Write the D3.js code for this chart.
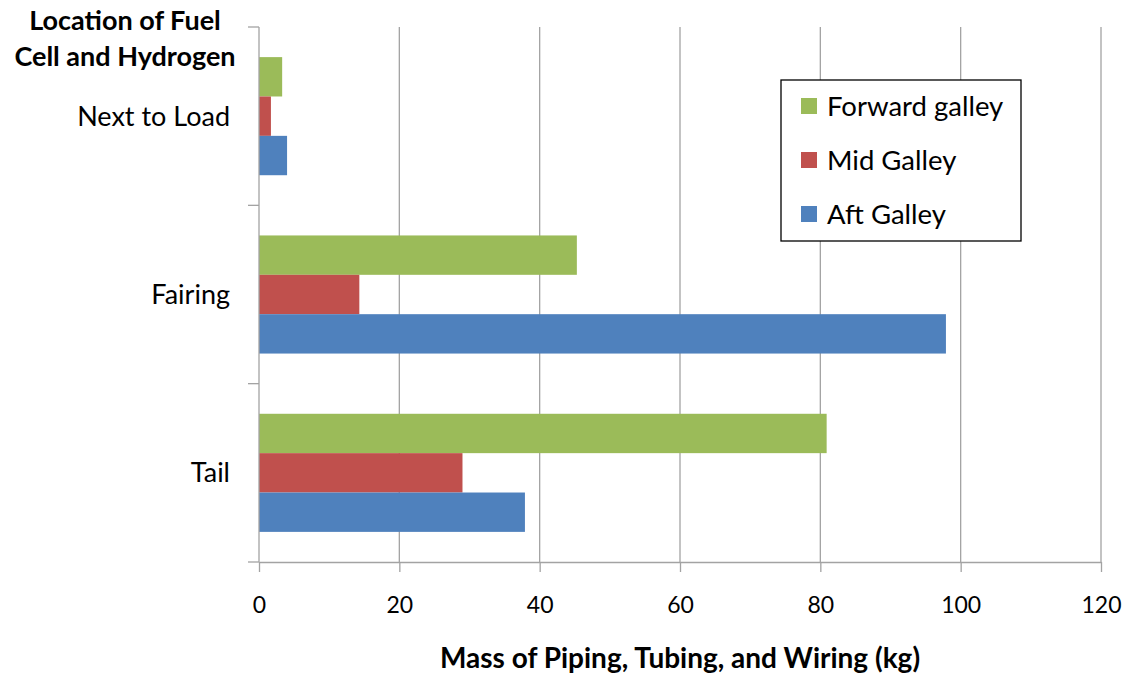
<!DOCTYPE html>
<html>
<head>
<meta charset="utf-8">
<script src="https://cdn.jsdelivr.net/npm/d3@7"></script>
<style>
  html, body { margin: 0; padding: 0; background: #fff; }
  svg { display: block; font-family: Lato, "Open Sans", sans-serif; }
</style>
</head>
<body>
<svg id="chart" width="1128" height="675"></svg>
<script>
// Fuel cell / hydrogen location options, top to bottom
const categories = ["Next to Load", "Fairing", "Tail"];
// Series, drawn top to bottom inside each group
const seriesNames = ["Forward galley", "Mid Galley", "Aft Galley"];
const seriesColors = ["#9BBB59", "#C0504D", "#4F81BD"];
// Mass of piping, tubing and wiring (kg), one array per series, ordered as categories
const forwardGalley = [3.3, 45.3, 80.9];
const midGalley = [1.7, 14.3, 29.0];
const aftGalley = [4.0, 97.9, 37.9];
const xTicks = [0, 20, 40, 60, 80, 100, 120];
const titleLines = ["Location of Fuel", "Cell and Hydrogen"];
const xTitle = "Mass of Piping, Tubing, and Wiring (kg)";

const seriesValues = [forwardGalley, midGalley, aftGalley];

const svg = d3.select("#chart");
const plot = { left: 259, right: 1101, top: 27, bottom: 562 };
const gapWidth = 0.51;

const x = d3.scaleLinear().domain([0, 120]).range([plot.left, plot.right]);
const y = d3.scaleBand().domain(categories).range([plot.top, plot.bottom]).padding(0);
const groupH = y.bandwidth() / (1 + gapWidth);
const groupOff = (y.bandwidth() - groupH) / 2;
const ySub = d3.scaleBand().domain(seriesNames).range([groupOff, groupOff + groupH]).padding(0);

const gridColor = "#a3a3a3";

// vertical gridlines
svg.append("g")
  .selectAll("line")
  .data(xTicks.filter(d => d > 0))
  .join("line")
  .attr("x1", d => x(d)).attr("x2", d => x(d))
  .attr("y1", plot.top).attr("y2", plot.bottom)
  .attr("stroke", gridColor).attr("stroke-width", 1.3);

// bars
const groups = svg.append("g")
  .selectAll("g")
  .data(categories)
  .join("g")
  .attr("transform", d => `translate(0,${y(d)})`);

groups.selectAll("rect")
  .data((c, ci) => seriesNames.map((s, si) => ({ s, si, v: seriesValues[si][ci] })))
  .join("rect")
  .attr("x", x(0))
  .attr("y", d => ySub(d.s))
  .attr("width", d => x(d.v) - x(0))
  .attr("height", ySub.bandwidth())
  .attr("fill", d => seriesColors[d.si]);

// x axis
const xAxis = svg.append("g")
  .attr("transform", `translate(0,${plot.bottom})`)
  .call(d3.axisBottom(x).tickValues(xTicks).tickSize(10).tickPadding(25).tickSizeOuter(0));
xAxis.select(".domain").attr("stroke", gridColor).attr("stroke-width", 1.3);
xAxis.selectAll(".tick line").attr("stroke", gridColor).attr("stroke-width", 1.3);
xAxis.selectAll(".tick text")
  .attr("font-family", "Lato, sans-serif")
  .attr("font-size", 23).attr("fill", "#000");

// y axis: category boundaries get tick marks, labels sit in band centres
const yBounds = categories.map(c => y(c)).concat([plot.bottom]);
svg.append("line")
  .attr("x1", plot.left).attr("x2", plot.left)
  .attr("y1", plot.top).attr("y2", plot.bottom)
  .attr("stroke", gridColor).attr("stroke-width", 1.3);
svg.append("g")
  .selectAll("line")
  .data(yBounds)
  .join("line")
  .attr("x1", plot.left - 11).attr("x2", plot.left)
  .attr("y1", d => d).attr("y2", d => d)
  .attr("stroke", gridColor).attr("stroke-width", 1.3);
svg.append("g")
  .selectAll("text")
  .data(categories)
  .join("text")
  .attr("x", 230)
  .attr("y", d => y(d) + y.bandwidth() / 2)
  .attr("dy", "0.35em")
  .attr("text-anchor", "end")
  .attr("font-size", 27)
  .attr("fill", "#000")
  .text(d => d);

// axis titles
svg.append("g")
  .selectAll("text")
  .data(titleLines)
  .join("text")
  .attr("x", 125)
  .attr("y", (d, i) => 30 + i * 36)
  .attr("text-anchor", "middle")
  .attr("font-size", 27)
  .attr("font-weight", "bold")
  .attr("fill", "#000")
  .text(d => d);

svg.append("text")
  .attr("x", (plot.left + plot.right) / 2)
  .attr("y", 668)
  .attr("text-anchor", "middle")
  .attr("font-size", 28)
  .attr("font-weight", "bold")
  .attr("fill", "#000")
  .text(xTitle);

// legend
const legend = svg.append("g").attr("transform", "translate(781,80)");
legend.append("rect")
  .attr("width", 240).attr("height", 161)
  .attr("fill", "#fff").attr("stroke", "#000").attr("stroke-width", 1.3);
const items = legend.selectAll("g.item")
  .data(seriesNames)
  .join("g")
  .attr("class", "item")
  .attr("transform", (d, i) => `translate(0,${26 + i * 54})`);
items.append("rect")
  .attr("x", 20).attr("y", -8)
  .attr("width", 16).attr("height", 16)
  .attr("fill", (d, i) => seriesColors[i]);
items.append("text")
  .attr("x", 46).attr("dy", "0.35em")
  .attr("font-size", 27.5)
  .attr("fill", "#000")
  .text(d => d);
</script>
</body>
</html>
